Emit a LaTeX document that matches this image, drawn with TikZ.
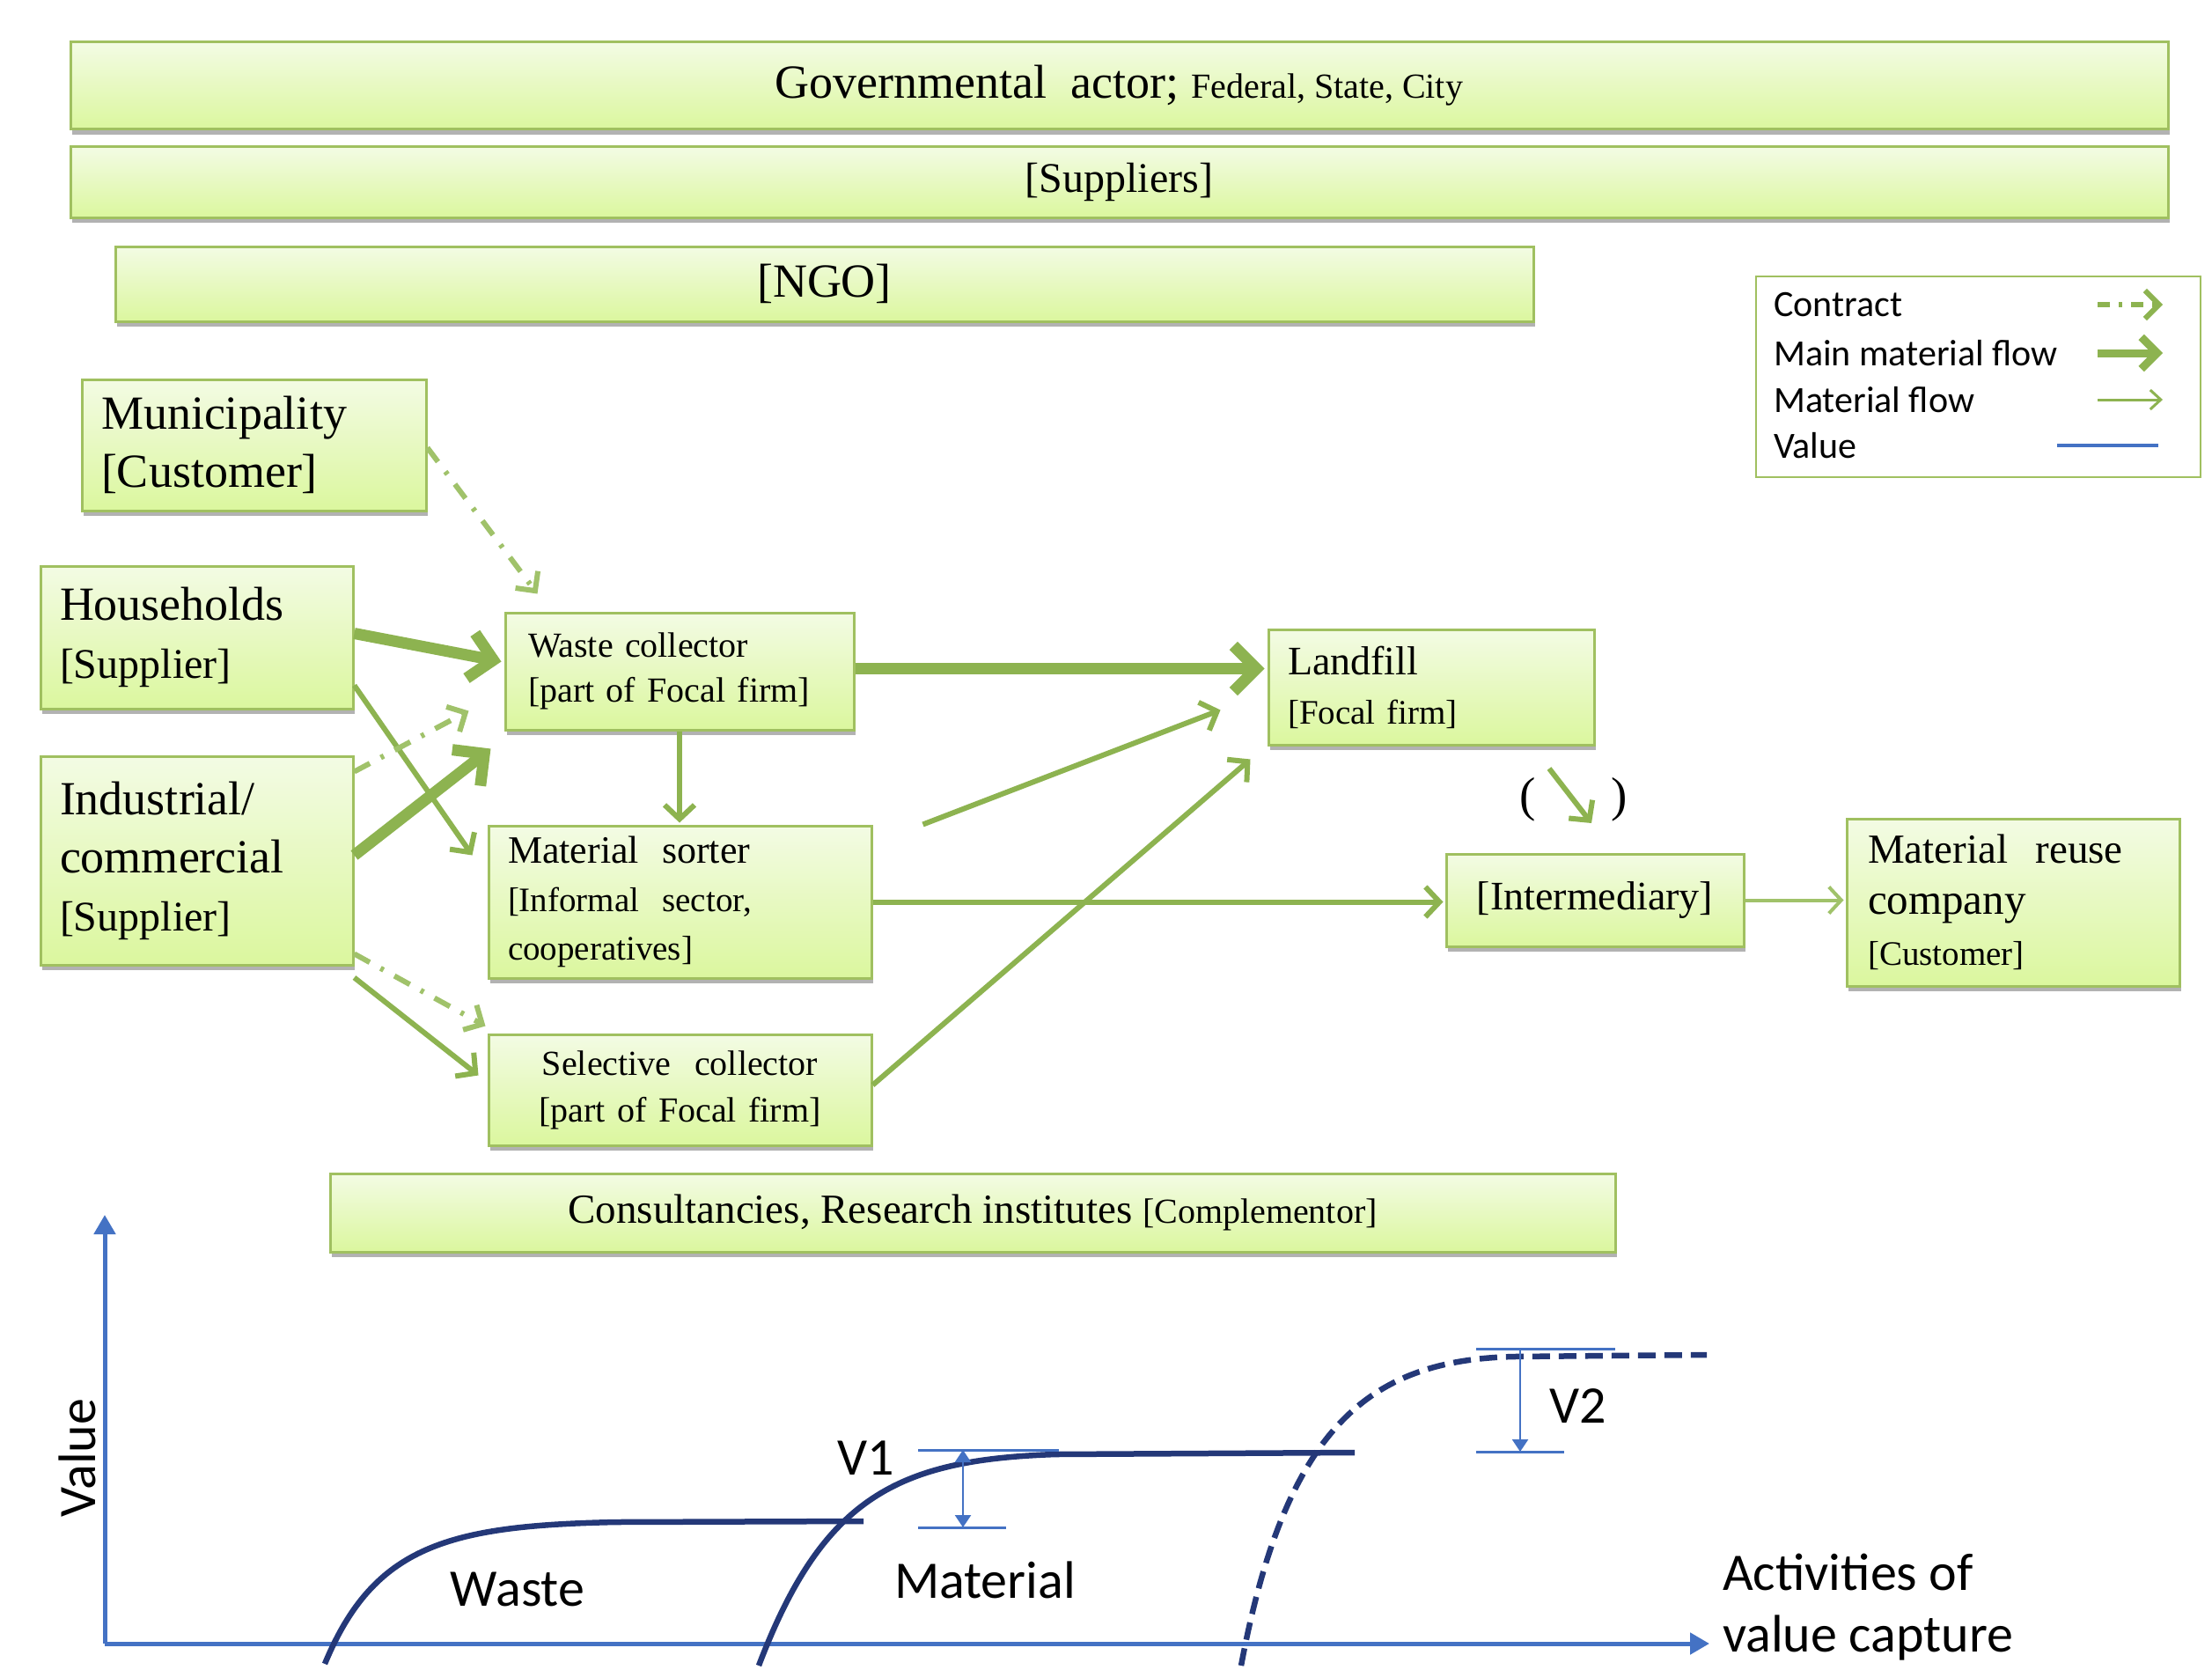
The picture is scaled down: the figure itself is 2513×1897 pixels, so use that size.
\documentclass[tikz,border=0pt]{standalone}
\usepackage{fontspec}
\setmainfont{Liberation Serif}
\newfontfamily\calfont{Carlito}
\usetikzlibrary{arrows.meta,shadows,calc}
\definecolor{boxtop}{RGB}{243,251,228}
\definecolor{boxbot}{RGB}{219,247,158}
\definecolor{boxline}{RGB}{160,192,96}
\definecolor{flow}{RGB}{141,179,80}
\definecolor{flowlight}{RGB}{160,194,106}
\definecolor{axisblue}{RGB}{68,114,196}
\definecolor{curvenavy}{RGB}{36,56,120}
\newcommand\fsz[2]{\fontsize{#1}{#2}\selectfont}
\begin{document}
\begin{tikzpicture}[x=1pt,y=-1pt,
  box/.style={draw=boxline, line width=3pt, top color=boxtop, bottom color=boxbot,
    drop shadow={shadow xshift=2pt, shadow yshift=-6pt, opacity=0.3, fill=black},
    inner xsep=22pt, inner ysep=0pt, font=\fsz{54}{66}},
  lbox/.style={box, align=left},
  cbox/.style={box, align=center},
  mainflow/.style={draw=flow, line width=13pt, -{Straight Barb[length=26pt,width=52pt]}},
  flowarrow/.style={draw=flow, line width=6pt, -{Straight Barb[length=16pt,width=34pt]}},
  lightflow/.style={draw=flowlight, line width=4pt, -{Straight Barb[length=14pt,width=30pt]}},
  contract/.style={draw=flowlight, line width=6pt, dash pattern=on 20pt off 14pt on 4pt off 14pt,
    -{Straight Barb[length=16pt,width=32pt]}},
  legtext/.style={font=\calfont\fsz{42}{50}, anchor=west, inner sep=0pt},
  axis/.style={draw=axisblue, line width=5pt, -{Triangle[length=22pt,width=24pt]}},
  curve/.style={draw=curvenavy, line width=6.5pt},
  vline/.style={draw=axisblue, line width=3pt},
  varrow/.style={draw=axisblue, line width=2.5pt},
  chartlabel/.style={font=\calfont\fsz{60}{70}, inner sep=0pt}
]
\useasboundingbox (0,0) rectangle (2513,1897);

% top bars
\node[cbox, minimum width=2383pt, minimum height=99pt] (gov) at (1271.5,97.5)
  {Governmental~ actor; {\fsz{40}{48}Federal, State, City}};
\node[cbox, minimum width=2383pt, minimum height=80pt, font=\fsz{48}{56}] (sup) at (1271.5,207) {[Suppliers]};
\node[cbox, minimum width=1611pt, minimum height=85pt] (ngo) at (936.5,322.5) {[NGO]};

% legend
\node[draw=boxline, line width=2.5pt, fill=white, minimum width=505pt, minimum height=228pt] (legend) at (2247.5,428) {};
\node[legtext] (lc) at (2015,346) {Contract};
\node[legtext] (lm) at (2015,401) {Main material flow};
\node[legtext] (lf2) at (2015,454) {Material flow};
\node[legtext] (lv) at (2015,506) {Value};
\coordinate (lca) at (2383,346); \coordinate (lcb) at (2457,346);
\coordinate (lma) at (2383,401); \coordinate (lmb) at (2457,401);
\coordinate (lfa) at (2383,454); \coordinate (lfb) at (2457,454);
\coordinate (lva) at (2337,506); \coordinate (lvb) at (2452,506);
\draw[contract, draw=flow, dash pattern=on 14pt off 10pt on 4pt off 10pt] (lca) -- (lcb);
\draw[mainflow, line width=9pt, -{Straight Barb[length=18pt,width=36pt]}] (lma) -- (lmb);
\draw[flowarrow, line width=3pt, -{Straight Barb[length=12pt,width=22pt]}] (lfa) -- (lfb);
\draw[vline, line width=4pt] (lva) -- (lvb);

% actor boxes
\node[lbox, minimum width=391pt, minimum height=149pt, text width=347pt] (mun) at (288.5,505.5)
  {Municipality\\{[Customer]}};
\node[lbox, minimum width=355pt, minimum height=162pt, text width=311pt] (hh) at (223.5,724)
  {Households\\{\fsz{48}{56}[Supplier]}};
\node[lbox, minimum width=355pt, minimum height=237pt, text width=311pt] (ind) at (223.5,977.5)
  {Industrial/\\commercial\\{\fsz{48}{56}[Supplier]}};
\node[lbox, minimum width=396pt, minimum height=133pt, text width=344pt, inner xsep=26pt, font=\fsz{40}{51}] (wc) at (772,762.5)
  {Waste collector\\{[part of Focal firm]}};
\node[lbox, minimum width=435pt, minimum height=173pt, text width=391pt, font=\fsz{39}{55}] (ms) at (772.5,1024.5)
  {{\fsz{44}{55}Material~ sorter}\\{[Informal~ sector,}\\cooperatives]};
\node[cbox, minimum width=435pt, minimum height=126pt, text width=391pt, font=\fsz{40}{53}] (sc) at (772.5,1238)
  {Selective~ collector\\{[part of Focal firm]}};
\node[lbox, minimum width=370pt, minimum height=131pt, text width=326pt, font=\fsz{39}{56}] (lf) at (1626,780.5)
  {{\fsz{46}{56}Landfill}\\{[Focal firm]}};
\node[cbox, minimum width=338pt, minimum height=105pt, font=\fsz{46}{54}] (im) at (1812,1022.5) {[Intermediary]};
\node[lbox, minimum width=378pt, minimum height=190pt, text width=330pt, inner xsep=24pt, font=\fsz{47}{58}] (mr) at (2287,1025)
  {Material~ reuse\\{\fsz{49}{58}company}\\{\fsz{39}{58}[Customer]}};
\node[cbox, minimum width=1460pt, minimum height=89pt, font=\fsz{47}{56}] (cons) at (1105,1377.5)
  {Consultancies, Research institutes {\fsz{40}{48}[Complementor]}};

% connectors
\draw[contract] ($(mun.north east)+(0,79)$) -- ($(wc.north west)+(38,-20)$);
\draw[mainflow] ($(hh.north east)+(0,78)$) -- ($(wc.north west)+(-3,57)$);
\draw[flowarrow] ($(hh.north east)+(0,137)$) -- ($(ms.north west)+(-17,35)$);
\draw[contract] ($(ind.north east)+(0,19)$) -- ($(wc.south west)+(-40,-23)$);
\draw[mainflow] ($(ind.north east)+(0,114)$) -- ($(wc.south west)+(-15,20)$);
\draw[contract] ($(ind.south east)+(0,-14)$) -- ($(sc.north west)+(-2,-8)$);
\draw[flowarrow] ($(ind.south east)+(0,13)$) -- ($(sc.north west)+(-10,48)$);
\draw[flowarrow] (wc.south) -- ($(wc.south |- ms.north)+(0,-2)$);
\draw[mainflow] ($(wc.north east)+(0,65)$) -- ($(lf.north west)+(-3,46)$);
\draw[flowarrow] ($(ms.north east)+(57,0)$) -- ($(lf.south west)+(-53,-41)$);
\draw[flowarrow] ($(sc.north east)+(0,59)$) -- ($(lf.south west)+(-19,15)$);
\draw[flowarrow] (ms.east) -- ($(ms.east -| im.west)+(-2,0)$);
\draw[lightflow] (im.east) -- ($(im.east -| mr.west)+(-2,0)$);

% parenthetical arrow
\node[font=\fsz{55}{60}, inner sep=0pt] (lp) at (1736,908) {(};
\node[font=\fsz{55}{60}, inner sep=0pt] (rp) at (1840,908) {)};
\coordinate (pa) at (1760,873);
\coordinate (pb) at (1808,935);
\draw[flowarrow] (pa) -- (pb);

% value chart
\coordinate (O) at (119,1867);
\coordinate (ytop) at (119,1380);
\coordinate (xend) at (1942,1867);
\draw[axis] (O) -- (ytop);
\draw[axis] (O) -- (xend);
\node[chartlabel, rotate=90] (vlab) at (88,1656) {Value};
\node[chartlabel, align=left, anchor=west] (act) at (1957,1826) {Activities of\\value capture};

\coordinate (w0) at (369,1890);
\coordinate (w1) at (700,1729);
\coordinate (w2) at (981,1728);
\draw[curve] (w0) .. controls (425,1755) and (510,1733) .. (w1) -- (w2);
\coordinate (m0) at (862,1892);
\coordinate (m1) at (1200,1652);
\coordinate (m2) at (1539,1650);
\draw[curve] (m0) .. controls (935,1700) and (1020,1658) .. (m1) -- (m2);
\coordinate (d0) at (1410,1892);
\coordinate (d1) at (1720,1541);
\coordinate (d2) at (1939,1539);
\draw[curve, dash pattern=on 20pt off 10pt, line width=6.5pt] (d0) .. controls (1462,1615) and (1560,1545) .. (d1) -- (d2);

\node[chartlabel] (wl) at (588,1805) {Waste};
\node[chartlabel] (ml) at (1119,1795) {Material};

% V1
\coordinate (v1a) at (1043,1647); \coordinate (v1b) at (1203,1647);
\coordinate (v1c) at (1043,1735); \coordinate (v1d) at (1143,1735);
\draw[vline] (v1a) -- (v1b);
\draw[vline] (v1c) -- (v1d);
\coordinate (v1t) at (1094,1647); \coordinate (v1u) at (1094,1735);
\draw[varrow, {Triangle[length=14pt,width=18pt]}-{Triangle[length=14pt,width=18pt]}] (v1t) -- (v1u);
\node[chartlabel] (v1l) at (984,1656) {V1};

% V2
\coordinate (v2a) at (1677,1532); \coordinate (v2b) at (1835,1532);
\coordinate (v2c) at (1677,1649); \coordinate (v2d) at (1777,1649);
\draw[vline] (v2a) -- (v2b);
\draw[vline] (v2c) -- (v2d);
\coordinate (v2t) at (1727,1532); \coordinate (v2u) at (1727,1649);
\draw[varrow, -{Triangle[length=14pt,width=18pt]}] (v2t) -- (v2u);
\node[chartlabel] (v2l) at (1793,1597) {V2};
\end{tikzpicture}
\end{document}
